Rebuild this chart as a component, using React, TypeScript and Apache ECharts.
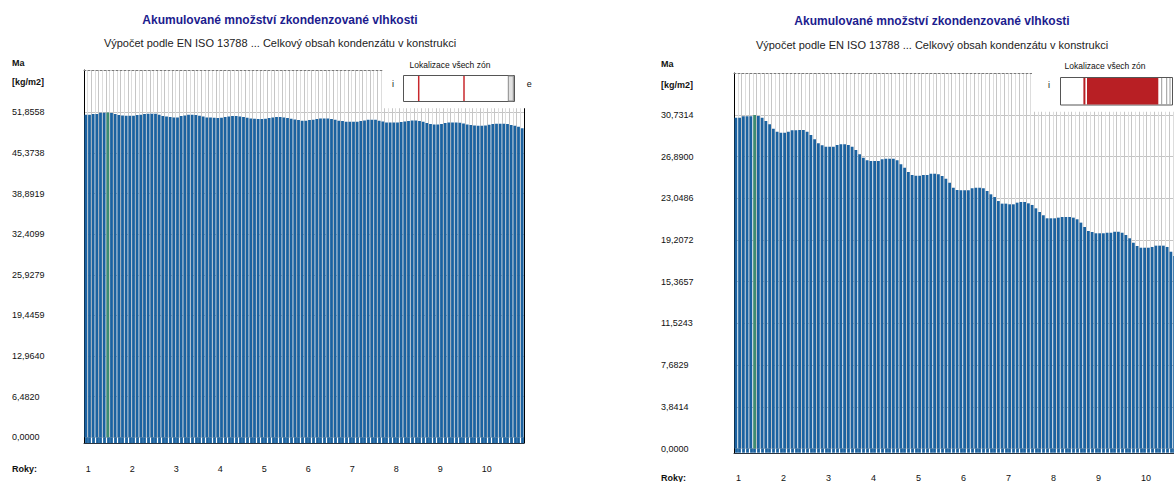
import React, { useEffect, useRef } from "react";
import * as echarts from "echarts";

// ---------- data ----------
const yearLabels = ["1", "2", "3", "4", "5", "6", "7", "8", "9", "10"];
const months: string[] = [];
for (let y = 1; y <= 10; y++) for (let m = 1; m <= 12; m++) months.push(y + "/" + m);

const leftTickLabels = ["0,0000", "6,4820", "12,9640", "19,4459", "25,9279", "32,4099", "38,8919", "45,3738", "51,8558"];
const rightTickLabels = ["0,0000", "3,8414", "7,6829", "11,5243", "15,3657", "19,2072", "23,0486", "26,8900", "30,7314"];
const leftInterval = 6.481975;
const rightInterval = 3.84143;

// accumulated condensate Ma [kg/m2], monthly, 10 years (left chart)
const leftValues = [
  51.49, 51.49, 51.6, 51.6, 51.81, 51.83, 51.8558, 51.76, 51.6, 51.44, 51.38, 51.33,
  51.33, 51.33, 51.44, 51.49, 51.6, 51.65, 51.65, 51.65, 51.49, 51.28, 51.22, 51.12,
  51.06, 51.06, 51.28, 51.38, 51.49, 51.49, 51.44, 51.33, 51.22, 51.06, 51.06, 51.01,
  50.96, 51.01, 51.12, 51.22, 51.28, 51.28, 51.22, 51.12, 51.01, 50.9, 50.85, 50.8,
  50.8, 50.85, 50.96, 51.06, 51.12, 51.12, 51.06, 50.96, 50.85, 50.74, 50.64, 50.53,
  50.53, 50.64, 50.69, 50.8, 50.9, 50.9, 50.9, 50.8, 50.69, 50.53, 50.48, 50.37,
  50.37, 50.37, 50.37, 50.48, 50.58, 50.69, 50.69, 50.69, 50.53, 50.42, 50.26, 50.26,
  50.26, 50.26, 50.32, 50.42, 50.48, 50.58, 50.58, 50.48, 50.37, 50.16, 50.0, 49.94,
  49.94, 50.0, 50.16, 50.26, 50.26, 50.26, 50.21, 50.1, 49.94, 49.84, 49.78, 49.73,
  49.73, 49.78, 49.89, 50.0, 50.05, 50.05, 50.05, 50.0, 49.84, 49.73, 49.57, 49.36,
];

// accumulated condensate Ma [kg/m2], monthly, 10 years (right chart)
const rightValues = [
  30.48, 30.48, 30.61, 30.61, 30.61, 30.7314, 30.64, 30.48, 30.18, 29.87, 29.47, 29.19,
  29.1, 29.1, 29.19, 29.32, 29.32, 29.35, 29.35, 29.19, 28.89, 28.49, 28.13, 27.94,
  27.81, 27.81, 27.81, 27.97, 28.03, 28.03, 27.97, 27.81, 27.51, 27.11, 26.8, 26.56,
  26.49, 26.49, 26.49, 26.65, 26.7, 26.7, 26.7, 26.56, 26.19, 25.87, 25.48, 25.2,
  25.14, 25.14, 25.2, 25.2, 25.32, 25.32, 25.27, 25.11, 24.86, 24.49, 24.03, 23.82,
  23.79, 23.79, 23.79, 23.98, 24.03, 24.03, 23.98, 23.73, 23.42, 23.17, 22.8, 22.56,
  22.56, 22.5, 22.5, 22.65, 22.71, 22.71, 22.59, 22.44, 22.13, 21.79, 21.49, 21.21,
  21.21, 21.21, 21.27, 21.33, 21.33, 21.33, 21.27, 21.12, 20.81, 20.41, 20.04, 19.95,
  19.83, 19.83, 19.83, 19.88, 19.88, 19.97, 19.97, 19.88, 19.67, 19.37, 18.96, 18.66,
  18.5, 18.5, 18.5, 18.57, 18.69, 18.69, 18.69, 18.57, 18.13, 17.73, 17.35, 17.07,
];

const leftGreenIndex = 6;
const rightGreenIndex = 5;

const titleText = "Akumulované množství zkondenzované vlhkosti";
const subtitleText = "Výpočet podle EN ISO 13788 ... Celkový obsah kondenzátu v konstrukci";
const legendTitle = "Lokalizace všech zón";

// ---------- styles ----------
const FONT = "'Liberation Sans', Arial, sans-serif";
const BAR = "#1b62a0";
const GREEN = "#3d8c72";
const RED = "#b81f24";

type Cfg = {
  left: number; top: number; width: number; dataHeight: number; frameHeight: number;
  max: number; interval: number; ticks: string[]; values: number[]; green: number;
  labelMarginY: number; labelMarginX: number; tickLen: number;
};

function buildChart(cfg: Cfg, gi: number) {
  const grids = [
    { left: cfg.left, top: cfg.top, width: cfg.width, height: cfg.dataHeight },
    { left: cfg.left, top: cfg.top, width: cfg.width, height: cfg.frameHeight },
  ];
  const splitColors: string[] = [];
  for (let i = 0; i < cfg.ticks.length; i++) splitColors.push("#c4c4c4");
  splitColors.push("rgba(0,0,0,0)", "rgba(0,0,0,0)");
  const xAxes = [
    {
      type: "category", gridIndex: gi, data: months, boundaryGap: true,
      axisLine: { show: false },
      axisTick: { show: true, interval: 0, alignWithLabel: true, length: cfg.tickLen, lineStyle: { color: BAR, width: 2.8 } },
      axisLabel: {
        interval: 11, align: "left", margin: cfg.labelMarginX, fontFamily: FONT, fontSize: 9, color: "#111",
        formatter: (_v: string, i: number) => (i % 12 === 0 ? yearLabels[i / 12] : ""),
      },
      splitLine: { show: true, interval: 0, lineStyle: { color: ["#c6c6c6", "#dddddd"], width: 1 } },
    },
    {
      type: "value", gridIndex: gi + 1, min: 0, max: 1, position: "bottom",
      axisLine: { show: true, onZero: false, lineStyle: { color: "#2a3440", width: 1 } },
      axisTick: { show: false }, axisLabel: { show: false }, splitLine: { show: false },
    },
    {
      type: "value", gridIndex: gi + 1, min: 0, max: 1, position: "top",
      axisLine: { show: true, onZero: false, lineStyle: { color: "#7a7a7a", width: 1, type: [2, 2] } },
      axisTick: { show: false }, axisLabel: { show: false }, splitLine: { show: false },
    },
  ];
  const yAxes = [
    {
      type: "value", gridIndex: gi, min: 0, max: cfg.max, interval: cfg.interval,
      axisLine: { show: false }, axisTick: { show: false },
      axisLabel: {
        align: "left", margin: cfg.labelMarginY, fontFamily: FONT, fontSize: 9, color: "#111",
        padding: [4, 0, 0, 0],
        formatter: (v: number) => {
          const i = Math.round(v / cfg.interval);
          return Math.abs(v - i * cfg.interval) < 1e-3 && i < cfg.ticks.length ? cfg.ticks[i] : "";
        },
      },
      splitLine: { show: true, lineStyle: { color: splitColors, width: 1 } },
    },
    {
      type: "value", gridIndex: gi + 1, min: 0, max: 1, position: "left",
      axisLine: { show: true, onZero: false, lineStyle: { color: "#000", width: 1 } },
      axisTick: { show: false }, axisLabel: { show: false }, splitLine: { show: false },
    },
    {
      type: "value", gridIndex: gi + 1, min: 0, max: 1, position: "right",
      axisLine: { show: true, onZero: false, lineStyle: { color: "#000", width: 1 } },
      axisTick: { show: false }, axisLabel: { show: false }, splitLine: { show: false },
    },
  ];
  return { grids, xAxes, yAxes };
}

const leftCfg: Cfg = {
  left: 84, top: 70, width: 440, dataHeight: 367.3, frameHeight: 373,
  max: 58.64, interval: leftInterval, ticks: leftTickLabels, values: leftValues, green: leftGreenIndex,
  labelMarginY: 72, labelMarginX: 27.5, tickLen: 5.7,
};
const rightCfg: Cfg = {
  left: 734, top: 73, width: 450, dataHeight: 375.8, frameHeight: 380,
  max: 34.598, interval: rightInterval, ticks: rightTickLabels, values: rightValues, green: rightGreenIndex,
  labelMarginY: 73, labelMarginX: 24.5, tickLen: 4.2,
};

function seriesData(values: number[], green: number) {
  return values.map((v, i) => (i === green ? { value: v, itemStyle: { color: GREEN } } : v));
}

function txt(x: number, y: number, text: string, size: number, opts: any = {}) {
  return {
    type: "text", x, y, z: 110,
    style: {
      text, fontFamily: FONT, fontSize: size, fontWeight: opts.bold ? "bold" : "normal",
      fill: opts.color || "#111", align: opts.align || "left", verticalAlign: "middle",
    },
  };
}
function vline(x: number, y1: number, y2: number, color: string, w: number) {
  return { type: "line", z: 108, shape: { x1: x, y1, x2: x, y2 }, style: { stroke: color, lineWidth: w } };
}
function rect(x: number, y: number, w: number, h: number, fill: string, stroke?: string, z = 105) {
  return { type: "rect", z, shape: { x, y, width: w, height: h }, style: { fill, stroke: stroke || null, lineWidth: 1 } };
}

export default function App() {
  const ref = useRef<HTMLDivElement>(null);
  useEffect(() => {
    if (!ref.current) return;
    const chart = echarts.init(ref.current, null, { renderer: "svg", width: 1200, height: 482 });
    const L = buildChart(leftCfg, 0);
    const R = buildChart(rightCfg, 2);
    const option: any = {
      animation: false,
      backgroundColor: "#ffffff",
      title: [
        { text: titleText, left: 280, top: 13.5, textAlign: "center", padding: 0, textStyle: { fontFamily: FONT, fontSize: 12, fontWeight: "bold", color: "#1c1c8e" } },
        { text: subtitleText, left: 280, top: 37.8, textAlign: "center", padding: 0, textStyle: { fontFamily: FONT, fontSize: 11, fontWeight: "normal", color: "#222" } },
        { text: titleText, left: 932, top: 15.3, textAlign: "center", padding: 0, textStyle: { fontFamily: FONT, fontSize: 12, fontWeight: "bold", color: "#1c1c8e" } },
        { text: subtitleText, left: 932, top: 39.5, textAlign: "center", padding: 0, textStyle: { fontFamily: FONT, fontSize: 11, fontWeight: "normal", color: "#222" } },
      ],
      grid: [...L.grids, ...R.grids],
      xAxis: [...L.xAxes, ...R.xAxes],
      yAxis: [...L.yAxes, ...R.yAxes],
      series: [
        { type: "bar", xAxisIndex: 0, yAxisIndex: 0, data: seriesData(leftValues, leftGreenIndex), barWidth: 2.8, itemStyle: { color: BAR }, silent: true },
        { type: "bar", xAxisIndex: 3, yAxisIndex: 3, data: seriesData(rightValues, rightGreenIndex), barWidth: 2.8, itemStyle: { color: BAR }, silent: true },
      ],
      graphic: [
        // axis captions
        txt(12, 62.6, "Ma", 9, { bold: true }),
        txt(12, 82, "[kg/m2]", 9, { bold: true }),
        txt(12, 469.3, "Roky:", 9, { bold: true }),
        txt(661, 64.2, "Ma", 9, { bold: true }),
        txt(661, 84.5, "[kg/m2]", 9, { bold: true }),
        txt(661, 478, "Roky:", 9, { bold: true }),
        // left zone legend
        rect(382.7, 55, 160, 53.3, "#ffffff", undefined, 100),
        txt(450, 65, legendTitle, 8.5, { align: "center" }),
        txt(392, 84, "i", 9),
        rect(403.5, 75.5, 111, 26, "#ffffff", "#555555"),
        rect(508.3, 76, 5, 25, "#e2e2e2", "#8a8a8a", 106),
        vline(418.7, 76, 101, "#c8282c", 1.5),
        vline(464, 76, 101, "#c8282c", 1.5),
        txt(526.7, 84, "e", 9),
        // right zone legend
        rect(1032, 55, 170, 56.7, "#ffffff", undefined, 100),
        txt(1105, 65.5, legendTitle, 8.5, { align: "center" }),
        txt(1048, 85, "i", 9),
        rect(1060.5, 77.5, 112, 27.5, "#ffffff", "#555555"),
        vline(1084.4, 78, 104.5, RED, 2),
        rect(1087, 78, 71.3, 26.5, RED, undefined, 106),
        vline(1161.7, 78, 104.5, "#9a9a9a", 1),
        vline(1166.7, 78, 104.5, "#9a9a9a", 1),
        vline(1170, 78, 104.5, "#9a9a9a", 1),
      ],
    };
    chart.setOption(option);
    return () => chart.dispose();
  }, []);
  return (
    <div style={{ position: "absolute", left: 0, top: 0, width: 1174, height: 482, overflow: "hidden", background: "#fff" }}>
      <div ref={ref} style={{ width: 1200, height: 482 }} />
    </div>
  );
}
